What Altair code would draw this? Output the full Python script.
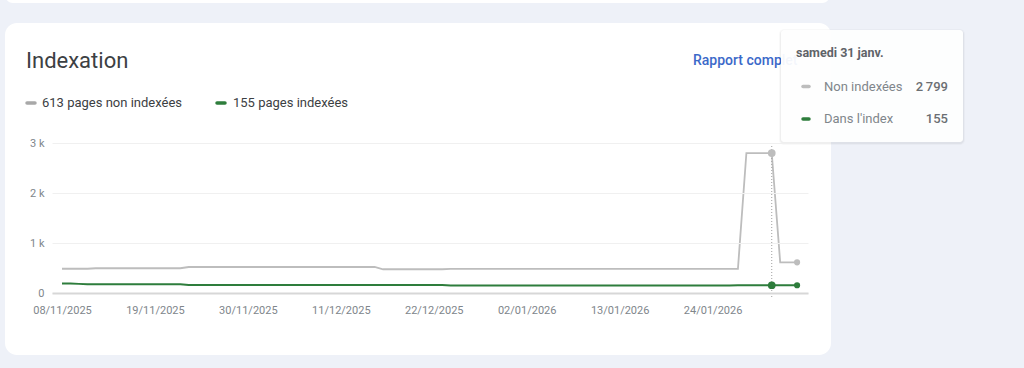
import altair as alt
import pandas as pd

# ---- data ----
start_date = "2025-11-08"
n_days = 88
non_indexees = [
    485, 485, 485, 485, 495, 495, 495, 495, 495, 495,
    495, 495, 495, 495, 495, 520, 520, 520, 520, 520,
    520, 520, 520, 520, 520, 520, 520, 520, 520, 520,
    520, 520, 520, 520, 520, 520, 520, 520, 475, 475,
    475, 475, 475, 475, 475, 475, 484, 484, 484, 484,
    484, 484, 484, 484, 484, 484, 484, 484, 484, 484,
    484, 484, 484, 484, 484, 484, 484, 484, 484, 484,
    484, 484, 484, 484, 484, 484, 484, 484, 484, 484,
    484, 2799, 2799, 2799, 2799, 613, 613, 613,
]
indexees = [
    190, 190, 182, 175, 175, 175, 175, 175, 175, 175,
    175, 175, 175, 175, 175, 160, 160, 160, 160, 160,
    160, 160, 160, 160, 160, 160, 160, 160, 160, 160,
    160, 160, 160, 160, 160, 160, 160, 160, 160, 160,
    160, 160, 160, 160, 160, 160, 150, 150, 150, 150,
    150, 150, 150, 150, 150, 150, 150, 150, 150, 150,
    150, 150, 150, 150, 150, 150, 150, 150, 150, 150,
    150, 150, 150, 150, 150, 150, 150, 150, 150, 150,
    155, 155, 155, 155, 155, 155, 155, 155,
]
series_names = ["Non indexées", "Dans l'index"]
series_colors = ["#bdbdbd", "#2e7d3c"]
hover_date = "2026-01-31"
tick_dates = ["2025-11-08", "2025-11-19", "2025-11-30", "2025-12-11",
              "2025-12-22", "2026-01-02", "2026-01-13", "2026-01-24"]
y_ticks = [0, 1000, 2000, 3000]

legend_labels = ["613 pages non indexées", "155 pages indexées"]
title_text = "Indexation"
link_text = "Rapport complet"
tip_title = "samedi 31 janv."
tip_values = ["2\u2009799", "155"]

dates = pd.date_range(start_date, periods=n_days)
df = pd.concat([
    pd.DataFrame({"date": dates, "series": series_names[0], "value": non_indexees}),
    pd.DataFrame({"date": dates, "series": series_names[1], "value": indexees}),
], ignore_index=True)
hover_df = df[df["date"] == pd.Timestamp(hover_date)]
last_df = df[df["date"] == dates[-1]]
rule_df = pd.DataFrame({"date": [pd.Timestamp(hover_date)]})

FONT = "Roboto"
one = pd.DataFrame({"k": [0]})


def dt(s, h=0, m=0):
    t = pd.Timestamp(s)
    return alt.DateTime(year=t.year, month=t.month, date=t.day, hours=h, minutes=m)


x_scale = alt.Scale(domain=[dt("2025-11-06", 19, 40), dt("2026-02-04", 7, 0)])
y_scale = alt.Scale(domain=[0, 3000])
color_scale = alt.Scale(domain=series_names, range=series_colors)

x_axis = alt.Axis(values=[dt(d) for d in tick_dates], format="%d/%m/%Y", title=None,
                  ticks=False, grid=False, domain=True, domainColor="#d7d7d7",
                  domainWidth=2, labelFontSize=11, labelColor="#80868b",
                  labelFont=FONT, labelPadding=11, labelFlush=False, zindex=1)
y_axis = alt.Axis(values=y_ticks, title=None, ticks=False, domain=False, grid=True,
                  gridColor="#f0f0f0", gridWidth=1,
                  labelExpr="datum.value == 0 ? '0' : format(datum.value / 1000, 'd') + ' k'",
                  labelFontSize=11, labelColor="#80868b", labelFont=FONT,
                  labelPadding=8, zindex=1)


def rect(x, x2, y, y2, **kw):
    return alt.Chart(one).mark_rect(**kw).encode(
        x=alt.value(x), x2=alt.value(x2), y=alt.value(y), y2=alt.value(y2))


def text(t, x, y, **kw):
    base = dict(font=FONT, baseline="middle", align="left")
    base.update(kw)
    return alt.Chart(one).mark_text(text=t, **base).encode(x=alt.value(x), y=alt.value(y))


def swatch(x, x2, y, color):
    return alt.Chart(one).mark_rule(color=color, strokeWidth=3.5, strokeCap="round").encode(
        x=alt.value(x), x2=alt.value(x2), y=alt.value(y))


# plot origin is at (52, 143) in the page
top_strip = rect(-47, 778, -160, -140, color="white", cornerRadius=8)
card = rect(-47, 779, -120, 212, color="white", cornerRadius=12)
title = text(title_text, -26, -75, baseline="alphabetic", fontSize=22, color="#3c4043")
link = text(link_text, 641, -78, baseline="alphabetic", fontSize=14, fontWeight=500, color="#3b69c9")
leg1_sw = swatch(-25, -17, -40, "#a8a8a8")
leg1_tx = text(legend_labels[0], -10, -40, fontSize=13, color="#3c4043")
leg2_sw = swatch(165, 173, -40, series_colors[1])
leg2_tx = text(legend_labels[1], 181, -40, fontSize=13, color="#3c4043")

lines = alt.Chart(df).mark_line(strokeWidth=1.8, interpolate="linear").encode(
    x=alt.X("date:T", scale=x_scale, axis=x_axis),
    y=alt.Y("value:Q", scale=y_scale, axis=y_axis),
    color=alt.Color("series:N", scale=color_scale, legend=None),
    detail="series:N",
)
rule = alt.Chart(rule_df).mark_rule(color="#a0a0a0", strokeWidth=1, strokeDash=[1, 2]).encode(
    x=alt.X("date:T", scale=x_scale), y=alt.value(0), y2=alt.value(154))
hover_pts = alt.Chart(hover_df).mark_circle(size=60, opacity=1).encode(
    x=alt.X("date:T", scale=x_scale), y=alt.Y("value:Q", scale=y_scale),
    color=alt.Color("series:N", scale=color_scale, legend=None))
last_pts = alt.Chart(last_df).mark_circle(size=38, opacity=1).encode(
    x=alt.X("date:T", scale=x_scale), y=alt.Y("value:Q", scale=y_scale),
    color=alt.Color("series:N", scale=color_scale, legend=None))

# tooltip box
sh1 = rect(727, 913, -114, 2, color="#000000", opacity=0.025, cornerRadius=5)
sh2 = rect(728, 912, -113, 1, color="#000000", opacity=0.04, cornerRadius=4)
tip = rect(729, 911, -113, -1, color="white", opacity=0.94, cornerRadius=3)
tip_t = text(tip_title, 744, -86, baseline="alphabetic", fontSize=12.5, fontWeight="bold", color="#5f6368")
tip_s1 = swatch(751, 757, -56.5, series_colors[0])
tip_l1 = text(series_names[0], 772, -56, fontSize=13, color="#80868b")
tip_v1 = text(tip_values[0], 896, -56, align="right", fontSize=13, fontWeight=500, color="#6b6f73")
tip_s2 = swatch(751, 757, -24, series_colors[1])
tip_l2 = text(series_names[1], 772, -24, fontSize=13, color="#80868b")
tip_v2 = text(tip_values[1], 896, -24, align="right", fontSize=13, fontWeight=500, color="#6b6f73")

chart = alt.layer(
    top_strip, card, title, link, leg1_sw, leg1_tx, leg2_sw, leg2_tx,
    lines, rule, hover_pts, last_pts,
    sh1, sh2, tip, tip_t, tip_s1, tip_l1, tip_v1, tip_s2, tip_l2, tip_v2,
).properties(
    width=756, height=150,
    padding={"left": 52, "top": 143, "right": 216, "bottom": 75},
    autosize=alt.AutoSizeParams(type="none"),
).configure(background="#eef1f8").configure_view(stroke=None)

chart.save("out.html", embed_options={"renderer": "svg", "actions": False})
